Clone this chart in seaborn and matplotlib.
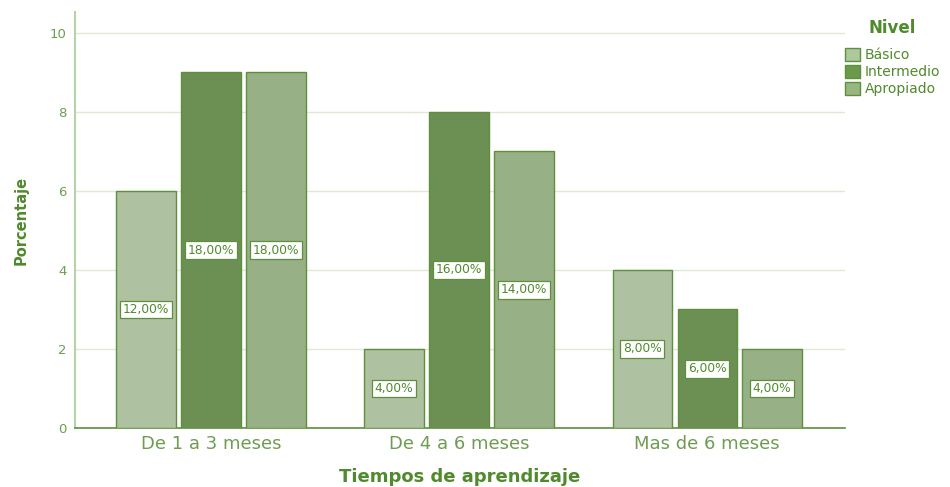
import matplotlib
matplotlib.use("Agg")
import matplotlib.pyplot as plt
import seaborn as sns
import pandas as pd
from matplotlib.patches import Patch

categories = ["De 1 a 3 meses", "De 4 a 6 meses", "Mas de 6 meses"]
levels = ["Básico", "Intermedio", "Apropiado"]
basico = [6, 2, 4]
intermedio = [9, 8, 3]
apropiado = [9, 7, 2]
basico_pct = ["12,00%", "4,00%", "8,00%"]
intermedio_pct = ["18,00%", "16,00%", "6,00%"]
apropiado_pct = ["18,00%", "14,00%", "4,00%"]
yticks = [0, 2, 4, 6, 8, 10]

rows = []
for lvl, vals, pcts in zip(levels, [basico, intermedio, apropiado],
                           [basico_pct, intermedio_pct, apropiado_pct]):
    for c, v, p in zip(categories, vals, pcts):
        rows.append({"Tiempo": c, "Nivel": lvl, "Valor": v, "Pct": p})
df = pd.DataFrame(rows)

sns.set_style("white")
plt.rcParams['font.family'] = ['DejaVu Sans']

colors = {"Básico": "#adc89b", "Intermedio": "#6a9a4a", "Apropiado": "#97b77e"}
edge = "#5f8f3c"
txt = "#4f8a2c"
tick_c = "#6f9c52"

fig = plt.figure(figsize=(9.5, 4.87), dpi=100)
ax = fig.add_axes([75/950, 59/487, 770/950, 416/487])

sns.barplot(data=df, x="Tiempo", y="Valor", hue="Nivel", order=categories,
            hue_order=levels, palette=colors, width=0.786, gap=0.09,
            edgecolor=edge, linewidth=1.0, ax=ax, zorder=3)

for cont, lvl in zip(ax.containers, levels):
    pcts = df[df["Nivel"] == lvl].set_index("Tiempo").loc[categories, "Pct"].tolist()
    for bar, p in zip(cont, pcts):
        x = bar.get_x() + bar.get_width() / 2
        y = bar.get_height() / 2
        ax.text(x, y, p, ha="center", va="center", fontsize=8.8, color=txt,
                zorder=5,
                bbox=dict(boxstyle="square,pad=0.2", fc="white", ec=edge, lw=0.9))

ax.set_xlim(-0.548, 2.556)
ax.set_ylim(0, 10.53)
ax.set_yticks(yticks)
ax.yaxis.grid(True, color="#dfe9d6", lw=1.0, zorder=0)
ax.set_axisbelow(True)
for s in ["top", "right"]:
    ax.spines[s].set_visible(False)
ax.spines["left"].set_color("#b9d1a6")
ax.spines["left"].set_linewidth(1.5)
ax.spines["bottom"].set_color("#5f8f3c")
ax.spines["bottom"].set_linewidth(1.2)

ax.tick_params(axis="y", length=0, labelsize=9.5, labelcolor=tick_c, pad=6)
ax.tick_params(axis="x", length=0, labelsize=13, labelcolor=tick_c, pad=5)

ax.set_xlabel("Tiempos de aprendizaje", fontsize=13, fontweight="bold",
              color=txt, labelpad=11)
ax.set_ylabel("Porcentaje", fontsize=10.5, fontweight="bold", color=txt,
              labelpad=15)

ax.get_legend().remove()
handles = [Patch(facecolor=colors[l], edgecolor=edge, lw=1.0) for l in levels]
leg = fig.legend(handles, levels, title="Nivel", loc="upper left",
                 bbox_to_anchor=(845/950, 1 - 19/487), frameon=False,
                 fontsize=10, title_fontsize=12, handlelength=1.05,
                 handleheight=1.0, handletextpad=0.35, labelspacing=0.22,
                 borderaxespad=0, borderpad=0.0)
leg.get_title().set_fontweight("bold")
leg.get_title().set_color(txt)
leg._legend_box.sep = 8
for t in leg.get_texts():
    t.set_color(txt)

fig.savefig("out.png", dpi=100)
